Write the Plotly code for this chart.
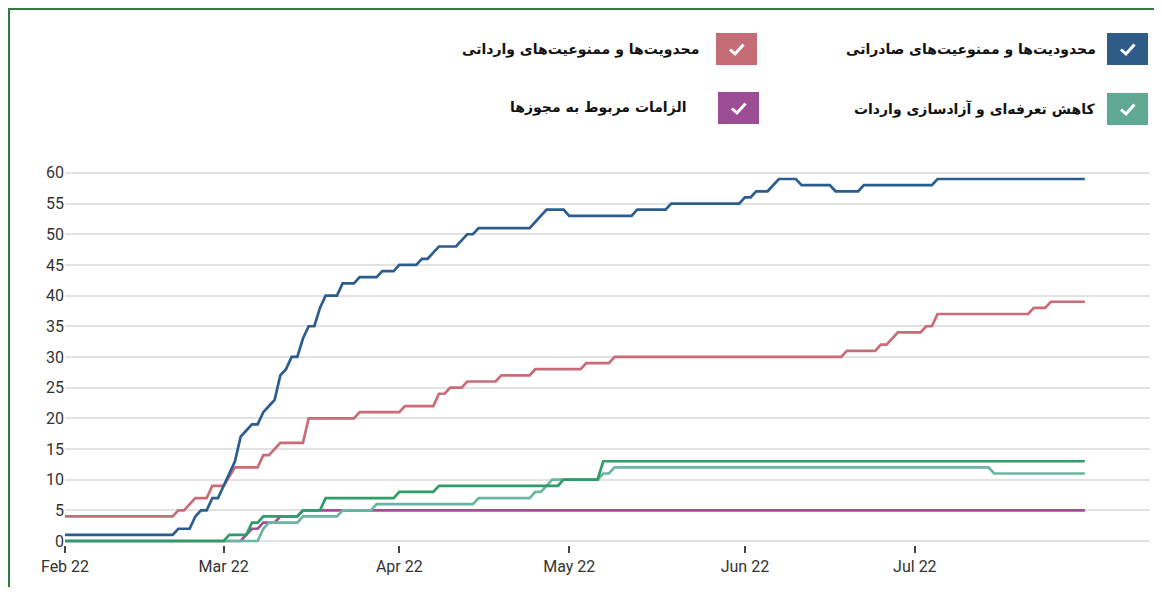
import plotly.graph_objects as go

# ---------------- data ----------------
export_dates = ["2022-02-01","2022-02-20","2022-02-21","2022-02-23","2022-02-24","2022-02-25","2022-02-26",
                "2022-02-27","2022-02-28","2022-03-01","2022-03-02","2022-03-03","2022-03-04","2022-03-05",
                "2022-03-06","2022-03-07","2022-03-08","2022-03-09","2022-03-10","2022-03-11","2022-03-12",
                "2022-03-13","2022-03-14","2022-03-15","2022-03-16","2022-03-17","2022-03-18","2022-03-19",
                "2022-03-21","2022-03-22","2022-03-24","2022-03-25","2022-03-28","2022-03-29","2022-03-31",
                "2022-04-01","2022-04-04","2022-04-05","2022-04-06","2022-04-07","2022-04-08","2022-04-11",
                "2022-04-12","2022-04-13","2022-04-14","2022-04-15","2022-04-24","2022-04-25","2022-04-26",
                "2022-04-27","2022-04-30","2022-05-01","2022-05-12","2022-05-13","2022-05-18","2022-05-19",
                "2022-05-31","2022-06-01","2022-06-02","2022-06-03","2022-06-05","2022-06-06","2022-06-07",
                "2022-06-10","2022-06-11","2022-06-16","2022-06-17","2022-06-21","2022-06-22","2022-07-04",
                "2022-07-05","2022-07-31"]
export_values = [1,1,2,2,4,5,5,
                 7,7,9,11,13,17,18,
                 19,19,21,22,23,27,28,
                 30,30,33,35,35,38,40,
                 40,42,42,43,43,44,44,
                 45,45,46,46,47,48,48,
                 49,50,50,51,51,52,53,
                 54,54,53,53,54,54,55,
                 55,56,56,57,57,58,59,
                 59,58,58,57,57,58,58,
                 59,59]

import_dates = ["2022-02-01","2022-02-20","2022-02-21","2022-02-22","2022-02-24","2022-02-26","2022-02-27",
                "2022-03-01","2022-03-03","2022-03-07","2022-03-08","2022-03-09","2022-03-11","2022-03-15",
                "2022-03-16","2022-03-24","2022-03-25","2022-04-01","2022-04-02","2022-04-07","2022-04-08",
                "2022-04-09","2022-04-10","2022-04-12","2022-04-13","2022-04-18","2022-04-19","2022-04-24",
                "2022-04-25","2022-05-03","2022-05-04","2022-05-08","2022-05-09","2022-06-18","2022-06-19",
                "2022-06-24","2022-06-25","2022-06-26","2022-06-28","2022-07-02","2022-07-03","2022-07-04",
                "2022-07-05","2022-07-21","2022-07-22","2022-07-24","2022-07-25","2022-07-31"]
import_values = [4,4,5,5,7,7,9,
                 9,12,12,14,14,16,16,
                 20,20,21,21,22,22,24,
                 24,25,25,26,26,27,27,
                 28,28,29,29,30,30,31,
                 31,32,32,34,34,35,35,
                 37,37,38,38,39,39]

other_dates = ["2022-02-01","2022-03-01","2022-03-02","2022-03-05","2022-03-06","2022-03-07","2022-03-08",
               "2022-03-14","2022-03-15","2022-03-18","2022-03-19","2022-03-31","2022-04-01","2022-04-07",
               "2022-04-08","2022-04-29","2022-04-30","2022-05-06","2022-05-07","2022-07-31"]
other_values = [0,0,1,1,3,3,4,
                4,5,5,7,7,8,8,
                9,9,10,10,13,13]

tariff_dates = ["2022-02-01","2022-03-07","2022-03-08","2022-03-09","2022-03-14","2022-03-15","2022-03-21",
                "2022-03-22","2022-03-27","2022-03-28","2022-04-14","2022-04-15","2022-04-24","2022-04-25",
                "2022-04-26","2022-04-28","2022-05-06","2022-05-07","2022-05-08","2022-05-09","2022-07-14",
                "2022-07-15","2022-07-31"]
tariff_values = [0,0,2,3,3,4,4,
                 5,5,6,6,7,7,8,
                 8,10,10,11,11,12,12,
                 11,11]

license_dates = ["2022-02-01","2022-03-04","2022-03-06","2022-03-07","2022-03-08","2022-03-10","2022-03-11",
                 "2022-03-14","2022-03-15","2022-07-31"]
license_values = [0,0,2,2,3,3,4,
                  4,5,5]

month_ticks = ["2022-02-01","2022-03-01","2022-04-01","2022-05-01","2022-06-01","2022-07-01"]

legend_labels = ["محدودیت‌ها و ممنوعیت‌های صادراتی", "محدویت‌ها و ممنوعیت‌های وارداتی",
                 "کاهش تعرفه‌ای و آزادسازی واردات", "الزامات مربوط به مجوزها"]

# ---------------- styling ----------------
C_BLUE = "#2c5d8f"
C_RED = "#c96c77"
C_DGREEN = "#2f9c69"
C_TEAL = "#6cb5a1"
C_PURPLE = "#a04d9b"

SW_BLUE = "#2e5b88"
SW_RED = "#c46d76"
SW_TEAL = "#5fa893"
SW_PURPLE = "#9b4d96"

# page body has an 8px margin: figure origin sits at page (8, 8)
OFF = 8
W, H = 1146, 579
L, R, T, B = 57, 4, 152, 42
PW, PH = W - L - R, H - T - B


def px(x):
    # x given in page pixels
    return (x - OFF - L) / PW


def py(y):
    # y given in page pixels
    return (H - B - (y - OFF)) / PH


fig = go.Figure()
for d, v, c in [(license_dates, license_values, C_PURPLE),
                (tariff_dates, tariff_values, C_TEAL),
                (other_dates, other_values, C_DGREEN),
                (import_dates, import_values, C_RED),
                (export_dates, export_values, C_BLUE)]:
    fig.add_trace(go.Scatter(x=d, y=v, mode="lines", line=dict(color=c, width=2.7),
                             showlegend=False, hoverinfo="skip"))

shapes = []
annotations = []

# frame of the page
shapes.append(dict(type="line", xref="paper", yref="paper", x0=px(9), x1=px(9), y0=py(8), y1=py(H + 40),
                   line=dict(color="#2f7a3c", width=2)))
shapes.append(dict(type="line", xref="paper", yref="paper", x0=px(9), x1=px(W + 40), y0=py(9), y1=py(9),
                   line=dict(color="#2f7a3c", width=2)))

# custom legend with check boxes
legend_items = [
    (legend_labels[0], SW_BLUE, 1107, 33, 1098),
    (legend_labels[1], SW_RED, 716, 33, 701),
    (legend_labels[2], SW_TEAL, 1107, 93, 1097),
    (legend_labels[3], SW_PURPLE, 718, 92, 688),
]
for label, col, x0, y0, tx in legend_items:
    w, h = 41, 32
    shapes.append(dict(type="rect", xref="paper", yref="paper",
                       x0=px(x0), x1=px(x0 + w), y0=py(y0 + h), y1=py(y0),
                       fillcolor=col, line=dict(width=0)))
    path = "M {:.5f} {:.5f} L {:.5f} {:.5f} L {:.5f} {:.5f}".format(
        px(x0 + 14), py(y0 + 16.5), px(x0 + 19), py(y0 + 21), px(x0 + 27.5), py(y0 + 11.5))
    shapes.append(dict(type="path", xref="paper", yref="paper", path=path,
                       line=dict(color="white", width=3)))
    annotations.append(dict(xref="paper", yref="paper", x=px(tx), y=py(y0 + h / 2),
                            xanchor="right", yanchor="middle", showarrow=False,
                            text="<b>" + label + "</b>",
                            font=dict(family="DejaVu Sans", size=14, color="#111")))

fig.update_layout(
    width=W, height=H,
    margin=dict(l=L, r=R, t=T, b=B, autoexpand=False),
    paper_bgcolor="white", plot_bgcolor="white",
    shapes=shapes, annotations=annotations,
    font=dict(family="Roboto", size=16, color="#333"),
    xaxis=dict(type="date", range=["2022-02-01", "2022-08-11 12:00"],
               tickvals=month_ticks, tickformat="%b %y",
               ticks="outside", ticklen=7, tickwidth=1.5, tickcolor="#444",
               showgrid=False, zeroline=False, showline=False,
               tickfont=dict(family="Roboto", size=16, color="#333")),
    yaxis=dict(range=[-0.65, 62.1], tick0=0, dtick=5,
               showgrid=True, gridcolor="#e2e2e2", gridwidth=1.5,
               zeroline=False, showline=False,
               tickfont=dict(family="Roboto", size=16, color="#333")),
)

fig.write_html("out.html")
